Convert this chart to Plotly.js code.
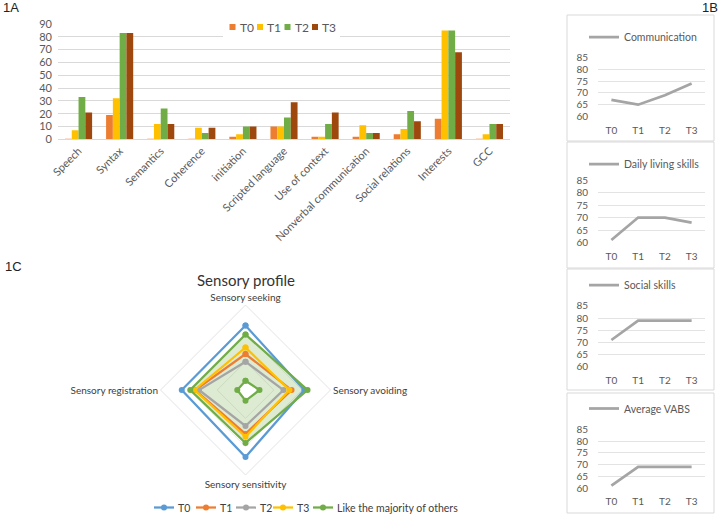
<!DOCTYPE html>
<html><head><meta charset="utf-8">
<script src="https://cdn.plot.ly/plotly-3.0.1.min.js"></script>
<style>html,body{margin:0;padding:0;background:#fff}</style>
</head><body><div id="chart" style="width:721px;height:514px"></div>
<script>
// ---------- DATA ----------
const barCategories = ['Speech','Syntax','Semantics','Coherence','initiation','Scripted language','Use of context','Nonverbal communication','Social relations','Interests','GCC'];
const seriesNames = ['T0','T1','T2','T3'];
const barT0 = [0.5, 19, 0.5, 0.5, 2, 10, 2, 2, 4, 16, 0.5];
const barT1 = [7, 32, 12, 9, 4, 10, 2, 11, 8, 85, 4];
const barT2 = [33, 83, 24, 5, 10, 17, 12, 5, 22, 85, 12];
const barT3 = [21, 83, 12, 9, 10, 29, 21, 5, 14, 68, 12];

const timePoints = ['T0','T1','T2','T3'];
const vabsNames = ['Communication','Daily living skills','Social skills','Average VABS'];
const communication = [67, 65, 69, 74];
const dailyLiving = [61, 70, 70, 68];
const socialSkills = [71, 79, 79, 79];
const averageVABS = [61, 69, 69, 69];

const sensoryAxes = ['Sensory seeking','Sensory avoiding','Sensory sensitivity','Sensory registration'];
const radarNames = ['T0','T1','T2','T3','Like the majority of others'];
const radarT0 = [45.5, 41.5, 47.3, 45];
const radarT1 = [25.4, 32.5, 31, 35.5];
const radarT2 = [20, 26.8, 25.4, 32.8];
const radarT3 = [30, 31, 33, 36];
const likeUpper = [39.2, 43.8, 37.4, 39];
const likeLower = [6.5, 9.9, 7.6, 5.8];

// ---------- HELPERS ----------
const W = 721, H = 514;
const px = x => x / W;
const py = y => 1 - y / H;
const close = a => a.concat([a[0]]);
const FONT = 'Lato, "Open Sans", sans-serif';
const GREY_TXT = '#595959';

const barColors = ['#ED7D31','#FFC000','#70AD47','#9E480E'];
const radarColors = ['#5B9BD5','#ED7D31','#A5A5A5','#FFC000','#70AD47'];

const traces = [];
const barSeries = [barT0, barT1, barT2, barT3];
barSeries.forEach((s, i) => traces.push({
  type:'bar', x: barCategories, y: s, name: seriesNames[i],
  marker:{color: barColors[i]}, xaxis:'x', yaxis:'y', showlegend:false, hoverinfo:'x+y+name'
}));

// radar fills
traces.push({type:'scatterpolar', r: close(likeUpper), theta: close(sensoryAxes), mode:'lines',
  fill:'toself', fillcolor:'rgba(112,173,71,0.24)', line:{width:0, color:'rgba(0,0,0,0)'}, showlegend:false, hoverinfo:'skip'});
traces.push({type:'scatterpolar', r: close(likeLower), theta: close(sensoryAxes), mode:'lines',
  fill:'toself', fillcolor:'#ffffff', line:{width:0, color:'rgba(0,0,0,0)'}, showlegend:false, hoverinfo:'skip'});
const radarSeries = [radarT0, radarT1, radarT2, radarT3];
radarSeries.forEach((s, i) => traces.push({
  type:'scatterpolar', r: close(s), theta: close(sensoryAxes), mode:'lines+markers', name: radarNames[i],
  line:{color: radarColors[i], width:2.25}, marker:{color: radarColors[i], size:6}, showlegend:false
}));
[likeUpper, likeLower].forEach(s => traces.push({
  type:'scatterpolar', r: close(s), theta: close(sensoryAxes), mode:'lines+markers', name: radarNames[4],
  line:{color: radarColors[4], width:2.25}, marker:{color: radarColors[4], size:6}, showlegend:false
}));

// VABS line charts
const vabsSeries = [communication, dailyLiving, socialSkills, averageVABS];
const legendKeys = ['legend','legend2','legend3','legend4'];
vabsSeries.forEach((s, k) => traces.push({
  type:'scatter', mode:'lines', x: timePoints, y: s, name: vabsNames[k],
  line:{color:'#A5A5A5', width:2.75}, xaxis:'x'+(k+2), yaxis:'y'+(k+2), legend: legendKeys[k], showlegend:true
}));

// ---------- LAYOUT ----------
const layout = {
  width: W, height: H, margin:{l:0,r:0,t:0,b:0},
  paper_bgcolor:'#ffffff', plot_bgcolor:'rgba(0,0,0,0)',
  font:{family: FONT, color: GREY_TXT},
  barmode:'group', bargap:0.34, bargroupgap:0,
  xaxis:{domain:[px(58), px(510)], anchor:'y', type:'category', tickangle:-45,
    tickfont:{family:FONT, size:11, color:GREY_TXT}, showline:true, linecolor:'#d9d9d9', linewidth:1,
    showgrid:false, ticks:'', zeroline:false},
  yaxis:{domain:[py(139.3), py(24)], anchor:'x', range:[0,90], dtick:10, gridcolor:'#d9d9d9',
    tickfont:{family:FONT, size:11, color:GREY_TXT}, zeroline:false, showline:false, ticks:'', ticklabelstandoff:5},
  polar:{
    domain:{x:[px(160.5), px(330.5)], y:[py(475), py(305)]},
    bgcolor:'rgba(0,0,0,0)', gridshape:'linear',
    angularaxis:{rotation:90, direction:'clockwise', showline:true, linecolor:'#e3e3e3', linewidth:1,
      showgrid:false, ticks:'', tickfont:{family:FONT, size:10, color:'#404040'}},
    radialaxis:{range:[0,60], dtick:20, showticklabels:false, ticks:'', showline:false, gridcolor:'#e9e9e9'}
  },
  shapes:[], annotations:[]
};

// VABS boxes and axes
const boxes = [[15,141],[142,268],[269,390],[393,513]];
const yTop = [57.3, 180, 305.7, 429];
const yBot = [116.7, 242.7, 367, 488.3];
const legY = [37, 164, 285, 408.5];
for (let k = 0; k < 4; k++) {
  const n = k + 2;
  layout['xaxis'+n] = {domain:[px(598), px(705)], anchor:'y'+n, type:'category', range:[-0.5,3.5],
    showgrid:false, showline:false, zeroline:false, ticks:'', tickfont:{family:FONT, size:10, color:GREY_TXT}, ticklabelstandoff:6};
  layout['yaxis'+n] = {domain:[py(yBot[k]), py(yTop[k])], anchor:'x'+n, range:[59.9,85.1], tickvals:[60,65,70,75,80,85],
    gridcolor:'#e3e3e3', zeroline:false, showline:false, ticks:'', tickfont:{family:FONT, size:10, color:GREY_TXT}, ticklabelstandoff:9};
  layout[legendKeys[k]] = {x: px(584), xanchor:'left', y: py(legY[k]), yanchor:'middle', orientation:'h',
    bgcolor:'rgba(0,0,0,0)', borderwidth:0, itemwidth:30, font:{family:FONT, size:10.5, color:GREY_TXT},
    tracegroupgap:0, itemclick:false, itemdoubleclick:false};
  layout.shapes.push({type:'rect', xref:'paper', yref:'paper', x0:px(567), x1:px(714), y0:py(boxes[k][1]), y1:py(boxes[k][0]),
    line:{color:'#d9d9d9', width:1}, fillcolor:'rgba(0,0,0,0)', layer:'below'});
}

// bar chart legend (custom, compact like the original)
layout.shapes.push({type:'rect', xref:'paper', yref:'paper', x0:px(223), x1:px(340), y0:py(39), y1:py(16),
  fillcolor:'#ffffff', line:{width:0}, layer:'above'});
seriesNames.forEach((nm, i) => {
  const x0 = 229.5 + i * 27.5;
  layout.shapes.push({type:'rect', xref:'paper', yref:'paper', x0:px(x0), x1:px(x0+6), y0:py(30), y1:py(24),
    fillcolor: barColors[i], line:{width:0}, layer:'above'});
  layout.annotations.push({xref:'paper', yref:'paper', x:px(x0+8), y:py(27), xanchor:'left', yanchor:'middle',
    text:nm, showarrow:false, font:{family:FONT, size:12, color:GREY_TXT}});
});

// radar legend (custom)
const radarLegX = [154, 196, 236, 273, 313];
radarNames.forEach((nm, i) => {
  const x0 = radarLegX[i], yL = 507.5;
  layout.shapes.push({type:'line', xref:'paper', yref:'paper', x0:px(x0), x1:px(x0+20), y0:py(yL), y1:py(yL),
    line:{color: radarColors[i], width:2.25}});
  layout.shapes.push({type:'circle', xref:'paper', yref:'paper', x0:px(x0+7), x1:px(x0+13), y0:py(yL+3), y1:py(yL-3),
    fillcolor: radarColors[i], line:{width:0}});
  layout.annotations.push({xref:'paper', yref:'paper', x:px(x0+22), y:py(yL), xanchor:'left', yanchor:'middle',
    text:nm, showarrow:false, font:{family:FONT, size:10.5, color:'#404040'}});
});

// panel labels and radar title
const panelLabels = [['1A', 1, 8], ['1B', 700, 8], ['1C', 3, 266]];
panelLabels.forEach(([t, x, y]) => layout.annotations.push({xref:'paper', yref:'paper', x:px(x), y:py(y),
  xanchor:'left', yanchor:'middle', text:t, showarrow:false, font:{family:'"Liberation Sans", Arial, sans-serif', size:13, color:'#222'}}));
layout.annotations.push({xref:'paper', yref:'paper', x:px(245.5), y:py(280), xanchor:'center', yanchor:'middle',
  text:'Sensory profile', showarrow:false, font:{family:FONT, size:15, color:'#333'}});

Plotly.newPlot('chart', traces, layout, {displayModeBar:false, staticPlot:true});
</script>
</body></html>
